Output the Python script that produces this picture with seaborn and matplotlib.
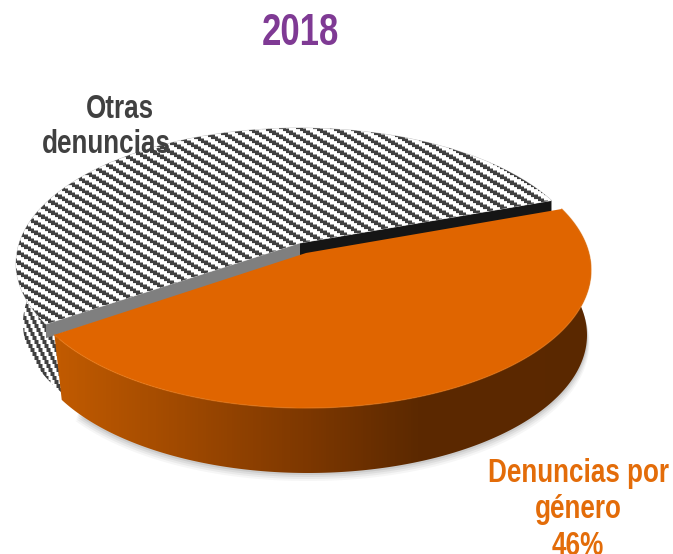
import numpy as np
import matplotlib
matplotlib.use("Agg")
import matplotlib.pyplot as plt
import seaborn as sns
from matplotlib import font_manager as fm
from matplotlib.colors import LinearSegmentedColormap
from matplotlib.patches import Polygon
from matplotlib.transforms import Transform
from fontTools.ttLib import TTFont

# ---- data -------------------------------------------------------------
title = "2018"
label_gen_lines = ["Denuncias por", "género", "46%"]
label_otr_lines = ["Otras", "denuncias"]
shares = [46, 54]

# ---- styling ----------------------------------------------------------
sns.set_theme(style="white")
ORANGE = "#E06500"
PURPLE = "#7F3A94"
GREY_TXT = "#404040"
LABEL_ORANGE = "#E36C09"
START_ANGLE = 19.7
W, H = 673, 554


def narrow_font(scale=0.78, out="narrow_bold.ttf"):
    """Horizontally condensed copy of Liberation Sans Bold (Arial Narrow look)."""
    src = fm.findfont(fm.FontProperties(family="Liberation Sans", weight="bold"))
    font = TTFont(src)
    glyf, hmtx = font["glyf"], font["hmtx"]
    for tag in ("fpgm", "prep", "cvt ", "hdmx", "VDMX", "LTSH", "GPOS", "GSUB", "kern"):
        if tag in font:
            del font[tag]
    for name in font.getGlyphOrder():
        g = glyf[name]
        if g.isComposite():
            for c in g.components:
                c.x = int(round(c.x * scale))
        elif g.numberOfContours > 0:
            g.coordinates.scale((scale, 1))
            g.coordinates.toInt()
            if hasattr(g, "program"):
                g.program.fromBytecode(b"")
        adv, lsb = hmtx[name]
        hmtx[name] = (int(round(adv * scale)), int(round(lsb * scale)))
    font.save(out)
    return out


font_path = narrow_font()
title_font = fm.FontProperties(fname=font_path, size=32)
label_font = fm.FontProperties(fname=font_path, size=24)

fig = plt.figure(figsize=(W / 100, H / 100), dpi=100)
ax = fig.add_axes([0, 0, 1, 1])


class Perspective(Transform):
    """Projects the unit pie disc onto the tilted ellipse of a 3D pie."""
    input_dims = output_dims = 2

    def __init__(self, apex_x, top, apex_y, bottom, half_width):
        super().__init__()
        self.c = (2 * apex_y - (top + bottom)) / (top - bottom)
        self.a = top * (1 + self.c) - apex_y
        self.b = apex_y
        self.apex_x = apex_x
        self.r = half_width * np.sqrt(1 - self.c ** 2)

    def transform_non_affine(self, xy):
        xy = np.asarray(xy, float)
        d = 1 + self.c * xy[:, 1]
        return np.column_stack([self.apex_x + self.r * xy[:, 0] / d,
                                (self.a * xy[:, 1] + self.b) / d])

    transform = transform_non_affine

    def arc(self, t1, t2, n=200):
        t = np.radians(np.linspace(t1, t2, n))
        return self.transform_non_affine(np.column_stack([np.cos(t), np.sin(t)]))


wedges, _ = ax.pie(shares, startangle=START_ANGLE, counterclock=False, radius=1)
w_gen, w_otr = wedges
ax.set_aspect("auto")

# top faces and matching lower rims
top_gen = Perspective(306, 132, 253, 408, 285)
low_gen = Perspective(308, 197, 318, 473, 279)
top_otr = Perspective(300, 128, 243, 399, 284)
low_otr = Perspective(300, 188, 303, 459, 277)

yy, xx = np.mgrid[0:H, 0:W]
stripe_cmap = LinearSegmentedColormap.from_list("stripe", ["#FFFFFF", "#404040"])


def soft_band(phase, period, dark):
    """Stripe texture with one-pixel soft edges, like the reference's pattern fill."""
    d = phase % period
    return np.clip(np.minimum(d + 0.5, dark + 0.5 - d), 0, 1)


def pattern_image(values, zorder, clip):
    im = ax.imshow(values, extent=(0, W, H, 0), cmap=stripe_cmap, zorder=zorder,
                   interpolation="nearest", aspect="auto", vmin=0, vmax=1)
    im.set_clip_path(clip)
    return im


# soft shadow under the pie
for k, a in zip([8, 6, 4, 2], [0.05, 0.07, 0.09, 0.12]):
    shadow = low_gen.arc(18, -140)
    ax.fill(shadow[:, 0] + k * 0.3 * np.sign(shadow[:, 0] - 308), shadow[:, 1] + k,
            color="#555555", alpha=a, lw=0, zorder=1)

# outer wall of "Otras" (steep stair-stepped stripes)
left = top_otr.arc(-141, -200)
left_low = low_otr.arc(-141, -200)
wall_otr = Polygon(np.vstack([left, left_low[::-1]]), closed=True, fc="none", ec="none", zorder=3)
ax.add_patch(wall_otr)
pattern_image(soft_band(xx - 2 * np.floor(yy / 4), 8, 4.0), 3, wall_otr)

# inner faces of the slightly pulled out slice
apex = top_otr.transform_non_affine(np.array([[0.0, 0.0]]))[0]
rim_grey = top_otr.arc(w_gen.theta1, w_gen.theta1, 1)[0]
rim_black = top_otr.arc(w_gen.theta2, w_gen.theta2, 1)[0]
for rim, col, depth in [(rim_grey, "#7F7F7F", 14), (rim_black, "#151515", 60)]:
    drop = np.array([0, depth])
    ax.add_patch(Polygon([apex, rim, rim + drop, apex + drop], closed=True,
                         fc=col, ec="none", zorder=3.5))

# top face of "Otras" with diagonal stair-stepped stripes
w_otr.set_transform(top_otr + ax.transData)
w_otr.set(facecolor="white", edgecolor="#BBBBBB", linewidth=0.6, zorder=4)
pattern_image(soft_band(yy - 2 * np.floor(xx / 3.4), 10, 4.6), 4.5, w_otr)

# outer wall of "Denuncias por género" with horizontal gradient
upper = top_gen.arc(w_gen.theta2, w_gen.theta1)
lower = low_gen.arc(w_gen.theta2, w_gen.theta1)
wall_gen = Polygon(np.vstack([upper, lower[::-1]]), closed=True, fc="none", ec="none", zorder=5)
ax.add_patch(wall_gen)
wall_cmap = LinearSegmentedColormap.from_list(
    "wall", [(0.0, "#C86000"), (0.09, "#C05A00"), (0.25, "#A34B00"),
             (0.45, "#7E3800"), (0.62, "#5C2900"), (1.0, "#5A2800")])
gradient = ax.imshow(xx / W, extent=(0, W, H, 0), cmap=wall_cmap, zorder=5,
                     interpolation="bilinear", aspect="auto", vmin=0, vmax=1)
gradient.set_clip_path(wall_gen)

# orange top face with a faint bevel along the rim
w_gen.set_transform(top_gen + ax.transData)
w_gen.set(facecolor=ORANGE, edgecolor="none", zorder=6)
ax.plot(upper[:, 0], upper[:, 1], color="#E8740F", lw=1.0, alpha=0.6, zorder=7)

# texts
ax.text(300, 45, title, color=PURPLE, fontproperties=title_font,
        ha="center", va="baseline", zorder=10)
for x, y, line in zip([119.5, 106], [118, 153], label_otr_lines):
    ax.text(x, y, line, color=GREY_TXT, fontproperties=label_font,
            ha="center", va="baseline", zorder=10)
for y, line in zip([482, 518, 555], label_gen_lines):
    ax.text(578, y, line, color=LABEL_ORANGE, fontproperties=label_font,
            ha="center", va="baseline", zorder=10)

ax.set_xlim(0, W)
ax.set_ylim(H, 0)
ax.set_xticks([])
ax.set_yticks([])
ax.axis("off")
fig.savefig("out.png", dpi=100, facecolor="white")
